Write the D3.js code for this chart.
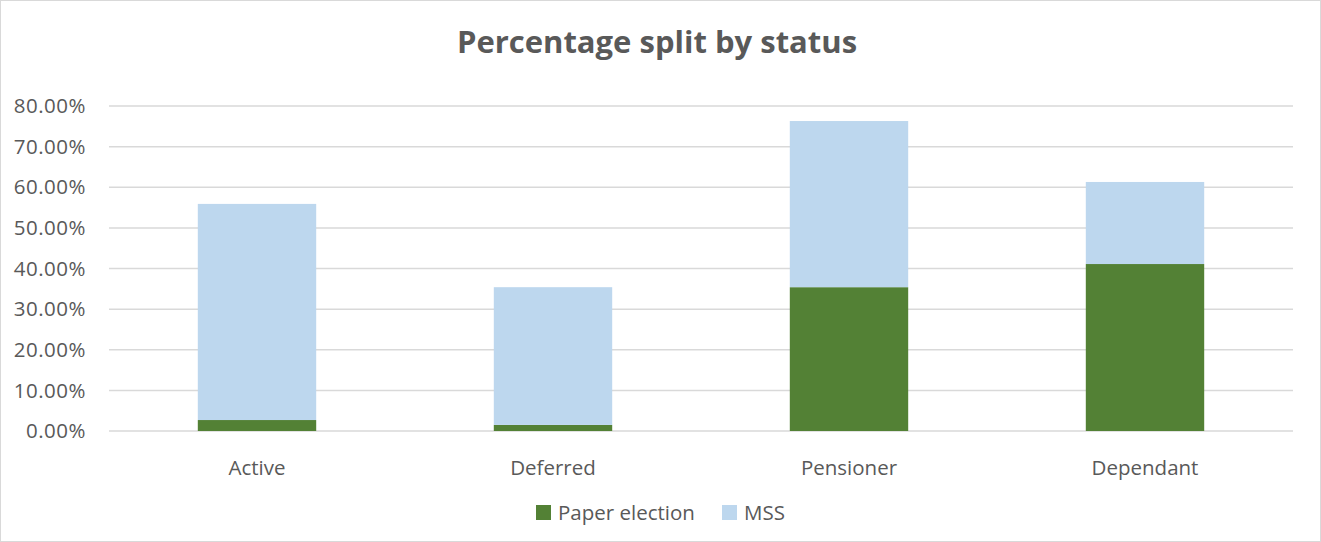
<!DOCTYPE html>
<html>
<head>
<meta charset="utf-8">
<script src="https://cdn.jsdelivr.net/npm/d3@7"></script>
<style>
  body { margin: 0; background: #fff; }
  text { font-family: "Open Sans", sans-serif; fill: #595959; }
</style>
</head>
<body>
<div id="chart"></div>
<script>
// data
const categories = ["Active", "Deferred", "Pensioner", "Dependant"]
const series_names = ["Paper election", "MSS"]
const paper = [2.7, 1.5, 35.4, 41.1]
const mss = [53.2, 33.9, 40.9, 20.2]
const y_ticks = [0, 10, 20, 30, 40, 50, 60, 70, 80]
const colors = ["#538135", "#bdd7ee"]

const width = 1321, height = 542
const margin = {left: 109, right: 28, top: 106, bottom: 111}

var svg = d3.select("#chart").append("svg")
    .attr("width", width)
    .attr("height", height)

// chart frame
svg.append("rect")
    .attr("x", 0.5).attr("y", 0.5)
    .attr("width", width - 1).attr("height", height - 1)
    .attr("fill", "#fff")
    .attr("stroke", "#d9d9d9")

var x = d3.scaleBand()
    .domain(categories)
    .range([margin.left, width - margin.right])
    .paddingInner(0.6).paddingOuter(0.3)

var y = d3.scaleLinear()
    .domain([0, 80])
    .range([height - margin.bottom, margin.top])

// gridlines
svg.append("g")
    .selectAll("line")
    .data(y_ticks)
    .join("line")
    .attr("x1", margin.left)
    .attr("x2", width - margin.right)
    .attr("y1", d => y(d))
    .attr("y2", d => y(d))
    .attr("stroke", "#d9d9d9")
    .attr("stroke-width", 1.5)

// y tick labels
svg.append("g")
    .selectAll("text")
    .data(y_ticks)
    .join("text")
    .attr("x", 86)
    .attr("y", d => y(d))
    .attr("dy", "0.35em")
    .attr("text-anchor", "end")
    .attr("font-size", 20.5)
    .attr("letter-spacing", 0.5)
    .text(d => d.toFixed(2) + "%")

// stacked bars
let rows = categories.map((c, i) => ({cat: c, paper: paper[i], mss: mss[i]}))
let stack = d3.stack().keys(["paper", "mss"])(rows)

svg.append("g")
    .selectAll("g")
    .data(stack)
    .join("g")
    .attr("fill", (d, i) => colors[i])
    .selectAll("rect")
    .data(d => d)
    .join("rect")
    .attr("x", d => x(d.data.cat))
    .attr("width", x.bandwidth())
    .attr("y", d => y(d[1]))
    .attr("height", d => y(d[0]) - y(d[1]))

// category labels
svg.append("g")
    .selectAll("text")
    .data(categories)
    .join("text")
    .attr("x", d => x(d) + x.bandwidth() / 2)
    .attr("y", 468)
    .attr("dy", "0.35em")
    .attr("text-anchor", "middle")
    .attr("font-size", 20.5)
    .text(d => d)

// title
svg.append("text")
    .attr("x", 657)
    .attr("y", 42)
    .attr("dy", "0.35em")
    .attr("text-anchor", "middle")
    .attr("font-size", 31)
    .attr("font-weight", "bold")
    .text("Percentage split by status")

// legend
const legend_x = [536, 722]
let legend = svg.append("g")
    .selectAll("g")
    .data(series_names)
    .join("g")
    .attr("transform", (d, i) => "translate(" + legend_x[i] + ",505)")
legend.append("rect")
    .attr("width", 15).attr("height", 15)
    .attr("fill", (d, i) => colors[i])
legend.append("text")
    .attr("x", 22).attr("y", 8)
    .attr("dy", "0.35em")
    .attr("font-size", 20.5)
    .text(d => d)
</script>
</body>
</html>
